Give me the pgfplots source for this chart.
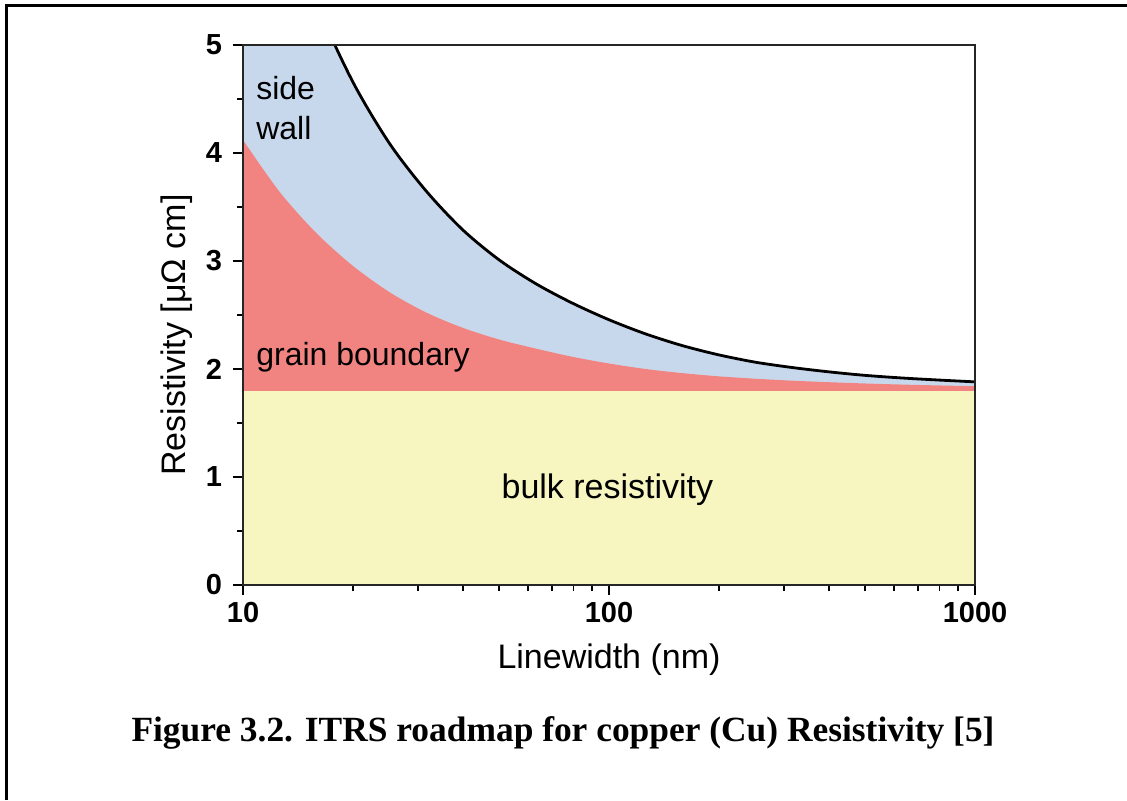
\documentclass[border=0pt]{standalone}
\usepackage{fontspec}
\setmainfont{Liberation Sans}
\newfontfamily\capfont{Liberation Serif}
\usepackage{pgfplots}
\pgfplotsset{compat=1.18}

\definecolor{sidewall}{RGB}{200,216,236}
\definecolor{grainb}{RGB}{241,132,128}
\definecolor{bulk}{RGB}{247,245,192}

% total resistivity (bulk + grain boundary + side wall), linewidth in nm
\pgfplotstableread{
w rho
10 7.49
12.59 6.29
15.85 5.39
19.95 4.66
25.12 4.09
31.62 3.65
39.81 3.29
50.12 3.01
63.10 2.79
79.43 2.61
100 2.456
125.9 2.325
158.5 2.217
199.5 2.131
251.2 2.063
316.2 2.014
398.1 1.974
501.2 1.941
631.0 1.917
794.3 1.898
1000 1.881
}\totalrho

% bulk + grain boundary
\pgfplotstableread{
w rho
10 4.12
12.59 3.64
15.85 3.26
19.95 2.956
25.12 2.712
31.62 2.524
39.81 2.382
50.12 2.273
63.10 2.189
79.43 2.113
100 2.051
125.9 2.000
158.5 1.962
199.5 1.932
251.2 1.910
316.2 1.892
398.1 1.878
501.2 1.866
631.0 1.856
794.3 1.848
1000 1.841
}\grainrho

\begin{document}
\begin{tikzpicture}[x=1pt,y=1pt]
\useasboundingbox (0,0) rectangle (563.5,400);
\draw[line width=1.5pt] (3,0) -- (3,397) -- (563.5,397);
\begin{axis}[
  at={(121.5pt,107.5pt)}, anchor=south west,
  scale only axis, width=366pt, height=270pt,
  xmode=log, xmin=10, xmax=1000, ymin=0, ymax=5,
  xtick={10,100,1000}, xticklabels={10,100,1000},
  minor xtick={20,30,40,50,60,70,80,90,200,300,400,500,600,700,800,900},
  ytick={0,1,2,3,4,5},
  minor ytick={0.5,1.5,2.5,3.5,4.5},
  tick align=outside, tick pos=left,
  major tick length=5pt, minor tick length=3pt,
  every tick/.style={black, line width=0.9pt},
  axis line style={black!85, line width=1.1pt},
  axis on top,
  /pgf/number format/assume math mode=true,
  ticklabel style={font=\fontsize{14.5}{16}\selectfont\bfseries},
  yticklabel style={xshift=-2pt},
  label style={font=\fontsize{17}{19}\selectfont},
  xlabel={Linewidth (nm)},
  ylabel={Resistivity [μΩ cm]},
  xlabel style={at={(axis description cs:0.5,0)}, anchor=center, yshift=-37.5pt},
  ylabel style={at={(axis description cs:0,0.463)}, anchor=center, yshift=33pt},
  clip=true,
]
\addplot[fill=sidewall, draw=none, smooth] table[x=w,y=rho]{\totalrho} \closedcycle;
\addplot[fill=grainb, draw=none, smooth] table[x=w,y=rho]{\grainrho} \closedcycle;
\addplot[fill=bulk, draw=none] coordinates {(10,1.8) (1000,1.8)} \closedcycle;
\addplot[black, line width=1.4pt, smooth] table[x=w,y=rho]{\totalrho};

\node[anchor=west, align=left, font=\fontsize{16}{20}\selectfont] at (axis cs:10.4,4.42) {side\\wall};
\node[anchor=west, font=\fontsize{16}{18}\selectfont] at (axis cs:10.4,2.11) {grain boundary};
\node[anchor=center, font=\fontsize{17}{19}\selectfont] at (axis cs:99,0.88) {bulk resistivity};
\end{axis}
\node[font=\capfont\bfseries\fontsize{17.7}{20}\selectfont] at (281.5,33.5) {Figure 3.2. ITRS roadmap for copper (Cu) Resistivity [5]};
\end{tikzpicture}
\end{document}
